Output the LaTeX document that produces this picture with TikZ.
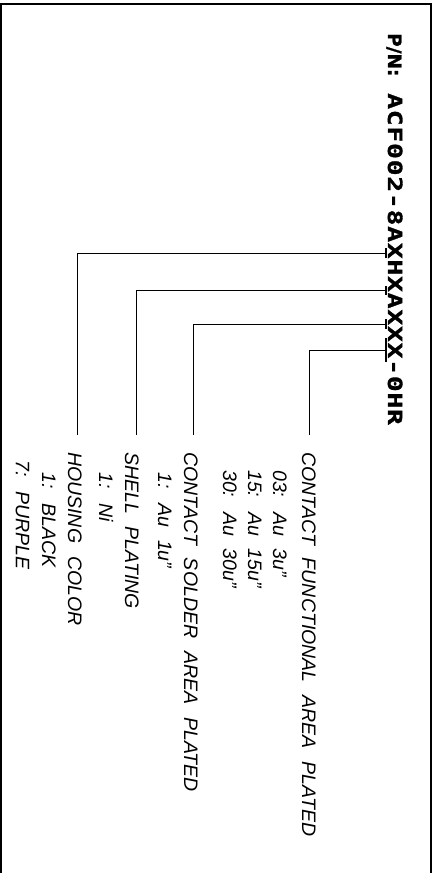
\documentclass[tikz,border=0pt]{standalone}
\usepackage{fontspec}
\newfontfamily\pnfont{DejaVu Sans Mono}[FakeStretch=1.35,LetterSpace=4,BoldFeatures={FakeBold=1.6}]
\newfontfamily\pnplain{DejaVu Sans}[BoldFeatures={FakeBold=1.2}]
\newfontfamily\labfont{Liberation Sans}[WordSpace=2.4]
\begin{document}
\begin{tikzpicture}[x=1pt,y=-1pt,
  frame/.style={line width=2pt},
  conn/.style={line width=1.2pt},
  tickln/.style={line width=2pt},
  pnstyle/.style={rotate=-90,anchor=base west,inner sep=0pt,font={\pnfont\bfseries\fontsize{19.5pt}{20pt}\selectfont}},
  pnhead/.style={rotate=-90,anchor=base west,inner sep=0pt,font={\pnplain\bfseries\fontsize{18.5pt}{19pt}\selectfont}},
  lab/.style={rotate=-90,anchor=base west,inner sep=0pt,font={\labfont\itshape\fontsize{19.5pt}{20pt}\selectfont}}]
\useasboundingbox (0,0) rectangle (437,873);
\draw[frame] (1,873) -- (1,4) -- (431,4) -- (431,873);

% part number
\node[pnhead] (pnlabel) at (388,33) {P/N:};
\node[pnstyle] (pnum) at (388,93) {ACF002-8AXHXAXXX-0HR};

% underline ticks
\draw[tickln] (385.5,248) -- (385.5,258);
\draw[tickln] (385.5,286) -- (385.5,295);
\draw[tickln] (385.5,319) -- (385.5,329);
\draw[tickln] (385.5,338) -- (385.5,362);
\coordinate (tk1) at (385.5,253.5);
\coordinate (tk2) at (385.5,290.5);
\coordinate (tk3) at (385.5,324.5);
\coordinate (tk4) at (385.5,350.5);

% label ends
\coordinate (c1) at (77.5,435);
\coordinate (c2) at (136.5,435);
\coordinate (c3) at (193.5,435);
\coordinate (c4) at (309.5,435);

\draw[conn] (tk1) -| (c1);
\draw[conn] (tk2) -| (c2);
\draw[conn] (tk3) -| (c3);
\draw[conn] (tk4) -| (c4);

% labels
\node[lab] (h4)  at (302,452) {CONTACT FUNCTIONAL AREA PLATED};
\node[lab] (h4a) at (273,470) {03: Au 3u”};
\node[lab] (h4b) at (248,470) {15: Au 15u”};
\node[lab] (h4c) at (223,470) {30: Au 30u”};
\node[lab] (h3)  at (184,452) {CONTACT SOLDER AREA PLATED};
\node[lab] (h3a) at (158,472) {1: Au 1u”};
\node[lab] (h2)  at (125,452) {SHELL PLATING};
\node[lab] (h2a) at (99,472) {1: Ni};
\node[lab] (h1)  at (68,452) {HOUSING COLOR};
\node[lab] (h1a) at (42,472) {1: BLACK};
\node[lab] (h1b) at (16,460) {7: PURPLE};
\end{tikzpicture}
\end{document}
